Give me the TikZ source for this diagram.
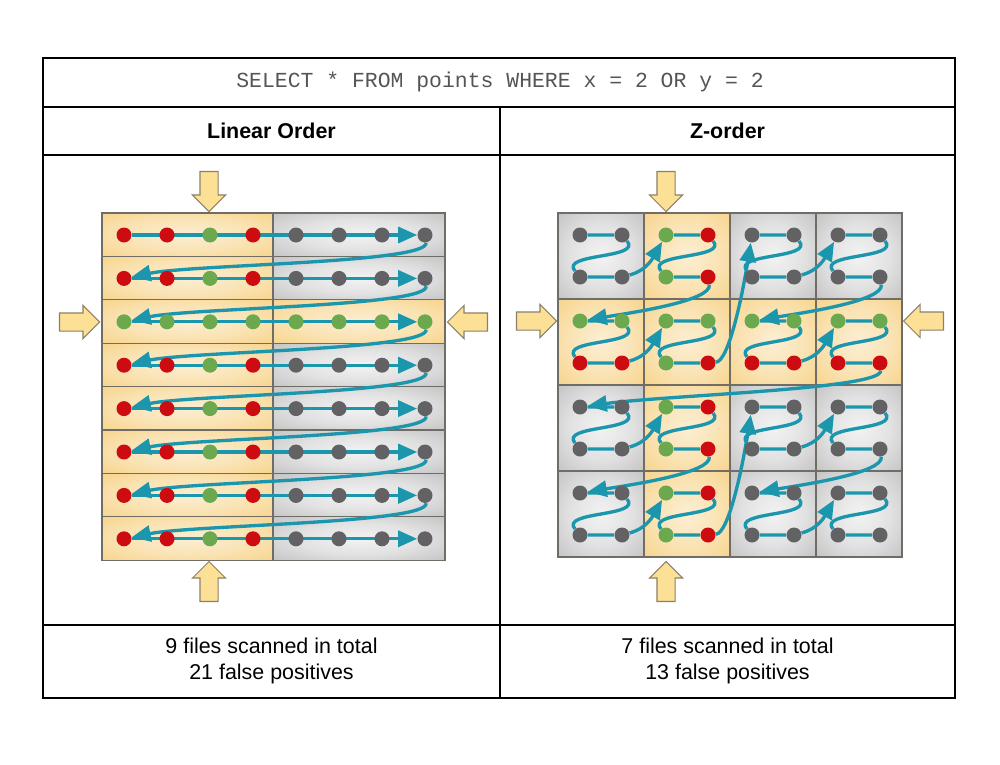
\documentclass[tikz,border=0pt]{standalone}
\usepackage{fontspec}
\setmainfont{Liberation Sans}
\setmonofont{Liberation Mono}
\usepackage{tikz}
\usetikzlibrary{arrows.meta, shapes.arrows, positioning, backgrounds}
\definecolor{flowteal}{RGB}{28,150,172}
\definecolor{hitred}{RGB}{205,12,18}
\definecolor{okgreen}{RGB}{108,168,78}
\definecolor{skipgrey}{RGB}{98,98,100}
\definecolor{hotcell}{RGB}{245,200,108}
\definecolor{coldcell}{RGB}{172,172,174}
\definecolor{cellline}{RGB}{112,108,102}
\definecolor{qgrey}{RGB}{85,85,85}
\definecolor{pushfill}{RGB}{252,224,150}
\definecolor{pushline}{RGB}{140,128,105}
\pgfdeclareradialshading{hotglow}{\pgfpoint{0bp}{0bp}}{color(0bp)=(hotcell!30!white); color(18bp)=(hotcell!50!white); color(50bp)=(hotcell); color(100bp)=(hotcell)}
\pgfdeclareradialshading{coldglow}{\pgfpoint{0bp}{0bp}}{color(0bp)=(coldcell!15!white); color(18bp)=(coldcell!35!white); color(50bp)=(coldcell); color(100bp)=(coldcell)}
\pgfdeclarelayer{cells}
\pgfsetlayers{cells,background,main}

\begin{document}
\begin{tikzpicture}[x=0.02cm, y=-0.02cm,
  pnt/.style={circle, inner sep=0pt, minimum size=0.3cm},
  flow/.style={->, >={Triangle[length=0.38cm, width=0.32cm]}, line width=1.9pt, flowteal},
  hot/.style={draw=cellline, line width=0.7pt, shading=hotglow},
  cold/.style={draw=cellline, line width=0.7pt, shading=coldglow},
  push/.style={single arrow, draw=pushline, fill=pushfill, line width=0.6pt, inner sep=0.17cm, minimum width=0.64cm, minimum height=0.8cm, single arrow head extend=0.15cm},
  tabline/.style={line width=0.9pt},
  txt/.style={font=\fontsize{12.2}{15}\selectfont, align=center}
]
\useasboundingbox (0,0) rectangle (1000,764);

% cells
\begin{pgfonlayer}{cells}
  \fill[white] (0,0) rectangle (1000,764);
  \foreach \r in {0,...,7} {
    \shadedraw[hot] (102,{213+43.4*\r}) rectangle (273,{213+43.4*(\r+1)});
    \ifnum\r=2
      \shadedraw[hot] (273,{213+43.4*\r}) rectangle (445,{213+43.4*(\r+1)});
    \else
      \shadedraw[cold] (273,{213+43.4*\r}) rectangle (445,{213+43.4*(\r+1)});
    \fi
  }
  \foreach \i in {0,...,3}
    \foreach \j in {0,...,3} {
      \pgfmathtruncatemacro\hit{(\i==1 || \j==1) ? 1 : 0}
      \ifnum\hit=1
        \shadedraw[hot] ({558+86*\i},{213+86*\j}) rectangle +(86,86);
      \else
        \shadedraw[cold] ({558+86*\i},{213+86*\j}) rectangle +(86,86);
      \fi
    }
\end{pgfonlayer}

% points, linear order
\foreach \r in {0,...,7}
  \foreach \c in {0,...,7} {
    \pgfmathtruncatemacro\kind{(\c==2 || \r==2) ? 0 : (\c<4 ? 1 : 2)}
    \ifcase\kind \def\dotc{okgreen}\or \def\dotc{hitred}\else \def\dotc{skipgrey}\fi
    \node[pnt, fill=\dotc] (l-\c-\r) at ({124+43*\c}, {235+43.4*\r}) {};
  }

% points, z-order
\foreach \j in {0,...,7}
  \foreach \i in {0,...,7} {
    \pgfmathtruncatemacro\kind{(\i==2 || \j==2) ? 0 : ((int(\i/2)==1 || int(\j/2)==1) ? 1 : 2)}
    \ifcase\kind \def\dotc{okgreen}\or \def\dotc{hitred}\else \def\dotc{skipgrey}\fi
    \node[pnt, fill=\dotc] (z-\i-\j) at ({580+86*int(\i/2)+42*mod(\i,2)}, {235+86*int(\j/2)+42*mod(\j,2)}) {};
  }

% scan paths
\begin{scope}[on background layer]
  \foreach \r in {0,...,7}
    \draw[flow] (l-0-\r) -- (l-7-\r);
  \foreach \r [evaluate=\r as \n using int(\r+1)] in {0,...,6}
    \draw[flow] (l-7-\r) .. controls +(4,28) and +(70,-14) .. (l-0-\n);

  \foreach \i in {0,2,4,6}
    \foreach \j in {0,2,4,6} {
      \pgfmathtruncatemacro\ii{\i+1}
      \pgfmathtruncatemacro\jj{\j+1}
      \draw[flow, -] (z-\i-\j) -- (z-\ii-\j) to[out=-50, in=130] (z-\i-\jj) -- (z-\ii-\jj);
    }
  \foreach \s/\t in {1-1/2-0, 1-3/2-2, 5-1/6-0, 5-3/6-2, 1-5/2-4, 1-7/2-6, 5-5/6-4, 5-7/6-6}
    \draw[flow] (z-\s) to[out=15, in=-120] (z-\t);
  \foreach \s/\t in {3-1/0-2, 7-1/4-2, 3-5/0-6, 7-5/4-6}
    \draw[flow] (z-\s) .. controls +(4,24) and +(50,-8) .. (z-\t);
  \foreach \s/\t in {3-3/4-0, 3-7/4-4}
    \draw[flow] (z-\s) .. controls +(22,-2) and +(-8,50) .. (z-\t);
  \draw[flow] (z-7-3) .. controls +(2,26) and +(90,-12) .. (z-0-4);
\end{scope}

% query arrows
\node[push, shape border rotate=270] (lin-n) at (209,187) {};
\node[push, shape border rotate=90] (lin-s) at (209,586) {};
\node[push, shape border rotate=0] (lin-w) at (75,322) {};
\node[push, shape border rotate=180] (lin-e) at (472,322) {};
\node[push, shape border rotate=270] (zo-n) at (666,187) {};
\node[push, shape border rotate=90] (zo-s) at (666,586) {};
\node[push, shape border rotate=0] (zo-w) at (532,321) {};
\node[push, shape border rotate=180] (zo-e) at (928,321) {};

% table
\draw[tabline] (43,58) rectangle (955,698);
\draw[tabline] (43,107) -- (955,107);
\draw[tabline] (43,155) -- (955,155);
\draw[tabline] (43,625) -- (955,625);
\draw[tabline] (500,107) -- (500,698);

\node[txt, font={\fontsize{12.2}{15}\selectfont\ttfamily}, text=qgrey] (query) at (500,82) {SELECT * FROM points WHERE x = 2 OR y = 2};
\node[txt, font={\fontsize{12.2}{15}\selectfont\bfseries}] (linhead) at (271.5,131) {Linear Order};
\node[txt, font={\fontsize{12.2}{15}\selectfont\bfseries}] (zhead) at (727.5,131) {Z-order};
\node[txt] (linfoot) at (271.5,661) {9 files scanned in total\\21 false positives};
\node[txt] (zfoot) at (727.5,661) {7 files scanned in total\\13 false positives};
\end{tikzpicture}
\end{document}
